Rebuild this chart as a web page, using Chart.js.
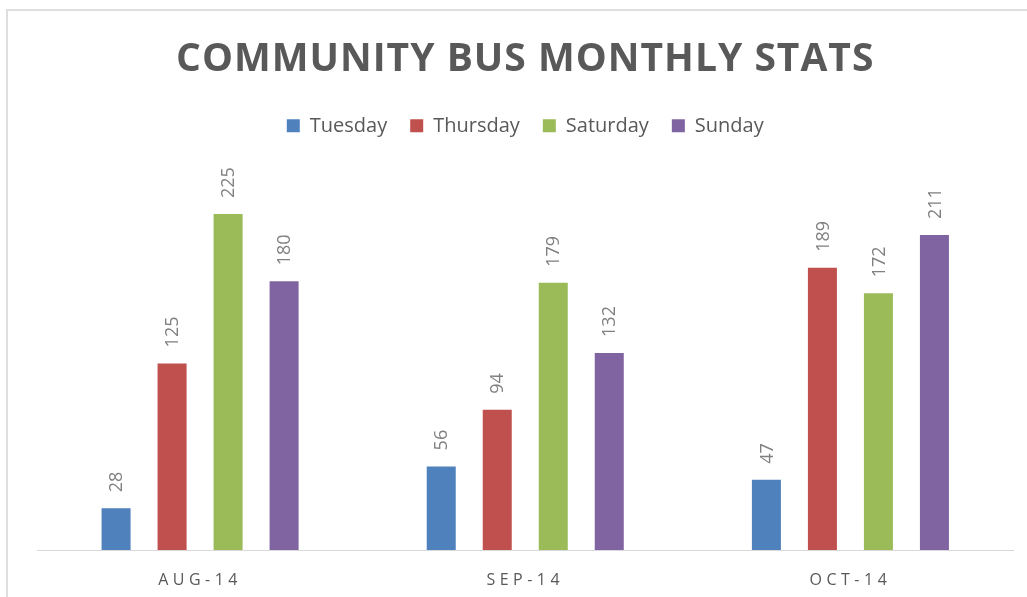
<!DOCTYPE html>
<html>
<head>
<meta charset="utf-8">
<title>Community Bus Monthly Stats</title>
<script src="https://cdn.jsdelivr.net/npm/chart.js@4.4.1/dist/chart.umd.min.js"></script>
<style>
    html, body { margin: 0; padding: 0; background: #fff; overflow: hidden; }
    #frame {
        position: absolute; left: 6px; top: 9px; width: 1100px; height: 700px;
        border-left: 2px solid #dedede; border-top: 2px solid #dedede;
    }
    #wrap { position: absolute; left: 0; top: 0; width: 1027px; height: 597px; }
</style>
</head>
<body>
<div id="frame"></div>
<div id="wrap"><canvas id="busChart"></canvas></div>
<script>
// Dados do gráfico
const months = ['AUG-14', 'SEP-14', 'OCT-14'];
const tuesday = [28, 56, 47];
const thursday = [125, 94, 189];
const saturday = [225, 179, 172];
const sunday = [180, 132, 211];

const textColor = '#595959';

// Rótulos verticais acima das barras + ajustes de layout
const barLabels = {
    id: 'barLabels',
    afterInit(chart) {
        // espaço entre legenda e área do gráfico
        const lg = chart.legend;
        const fit = lg.fit;
        lg.fit = function() {
            fit.call(this);
            this.height += 31;
        };
        // título com letras espaçadas
        const tb = chart.titleBlock;
        const draw = tb.draw;
        tb.draw = function() {
            chart.ctx.letterSpacing = '1px';
            draw.apply(this, arguments);
            chart.ctx.letterSpacing = '0px';
        };
    },
    afterDatasetsDraw(chart) {
        const ctx = chart.ctx;
        ctx.save();
        ctx.font = '18px "Open Sans"';
        ctx.fillStyle = '#808080';
        ctx.textAlign = 'left';
        ctx.textBaseline = 'middle';
        chart.data.datasets.forEach((ds, i) => {
            chart.getDatasetMeta(i).data.forEach((bar, j) => {
                ctx.save();
                ctx.translate(bar.x, bar.y - 16);
                ctx.rotate(-Math.PI / 2);
                ctx.fillText(String(ds.data[j]), 0, 1);
                ctx.restore();
            });
        });
        ctx.restore();
        // espaçamento das letras no eixo x (desenhado depois, ticks.z = 1)
        ctx.letterSpacing = '4.5px';
    },
    afterDraw(chart) {
        chart.ctx.letterSpacing = '0px';
    }
};

new Chart(document.getElementById('busChart'), {
    type: 'bar',
    data: {
        labels: months,
        datasets: [
            { label: 'Tuesday', data: tuesday, backgroundColor: '#4f81bd' },
            { label: 'Thursday', data: thursday, backgroundColor: '#c0504d' },
            { label: 'Saturday', data: saturday, backgroundColor: '#9bbb59' },
            { label: 'Sunday', data: sunday, backgroundColor: '#8064a2' }
        ]
    },
    options: {
        responsive: true,
        maintainAspectRatio: false,
        animation: false,
        datasets: {
            bar: { barPercentage: 0.518, categoryPercentage: 0.689 }
        },
        layout: { padding: { left: 37.5, right: 14, top: 0, bottom: 0 } },
        plugins: {
            title: {
                display: true,
                text: 'COMMUNITY BUS MONTHLY STATS',
                color: textColor,
                font: { family: '"Open Sans"', size: 39, weight: 'bold' },
                padding: { top: 36, bottom: 10 }
            },
            legend: {
                position: 'top',
                labels: {
                    color: textColor,
                    font: { family: '"Open Sans"', size: 20 },
                    boxWidth: 13,
                    boxHeight: 13,
                    padding: 23
                }
            },
            tooltip: { enabled: false }
        },
        scales: {
            x: {
                grid: { display: false, drawTicks: false },
                border: { display: true, color: '#d9d9d9', width: 1 },
                ticks: {
                    z: 1,
                    color: textColor,
                    font: { family: '"Open Sans"', size: 16 },
                    padding: 21
                },
                afterFit(scale) {
                    scale.height = 47;
                }
            },
            y: {
                display: false,
                min: 0,
                max: 250
            }
        }
    },
    plugins: [barLabels]
});
</script>
</body>
</html>
